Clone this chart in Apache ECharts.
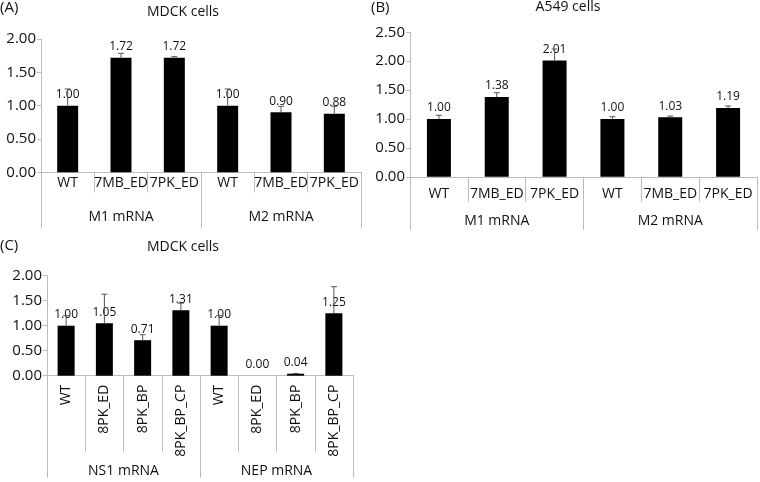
<!DOCTYPE html>
<html>
<head>
<meta charset="utf-8">
<script src="https://cdn.jsdelivr.net/npm/echarts@6/dist/echarts.min.js"></script>
<style>html,body{margin:0;padding:0;background:#fff}#c{width:760px;height:482px}</style>
</head>
<body>
<div id="c"></div>
<script>
// ---- data ----
var catsA = ['WT', '7MB_ED', '7PK_ED', 'WT', '7MB_ED', '7PK_ED'];
var groupsA = ['M1 mRNA', 'M2 mRNA'];
var valsA = [1.00, 1.72, 1.72, 1.00, 0.90, 0.88];
var errA = [0.25, 0.065, 0.015, 0.25, 0.09, 0.11];

var catsB = ['WT', '7MB_ED', '7PK_ED', 'WT', '7MB_ED', '7PK_ED'];
var groupsB = ['M1 mRNA', 'M2 mRNA'];
var valsB = [1.00, 1.38, 2.01, 1.00, 1.03, 1.19];
var errB = [0.065, 0.075, 0.2, 0.04, 0.02, 0.035];

var catsC = ['WT', '8PK_ED', '8PK_BP', '8PK_BP_CP', 'WT', '8PK_ED', '8PK_BP', '8PK_BP_CP'];
var groupsC = ['NS1 mRNA', 'NEP mRNA'];
var valsC = [1.00, 1.05, 0.71, 1.31, 1.00, 0.00, 0.04, 1.25];
var errC = [0.2, 0.58, 0.11, 0.14, 0.2, 0, 0.005, 0.53];

var titles = ['MDCK cells', 'A549 cells', 'MDCK cells'];
var panelTags = ['(A)', '(B)', '(C)'];
var yMax = [2.0, 2.5, 2.0];

// ---- styles ----
var FONT = 'Open Sans';
var axisGrey = '#bcbcbc';
var textCol = '#111';

var panels = [
  {cats: catsA, groups: groupsA, vals: valsA, errs: errA, grid: {left: 41, top: 39, width: 320, height: 133.3},
   barW: 21, innerTick: 20, groupTick: 56, catMargin: 4, groupMargin: 38, rotate: 0},
  {cats: catsB, groups: groupsB, vals: valsB, errs: errB, grid: {left: 410, top: 32.3, width: 347, height: 144.5},
   barW: 24, innerTick: 25, groupTick: 53, catMargin: 10, groupMargin: 37, rotate: 0},
  {cats: catsC, groups: groupsC, vals: valsC, errs: errC, grid: {left: 47, top: 275.7, width: 306, height: 100},
   barW: 17, innerTick: 76, groupTick: 102, catMargin: 9, groupMargin: 88, rotate: 90}
];

var grids = [], xAxes = [], yAxes = [], series = [];
panels.forEach(function (p, i) {
  grids.push(Object.assign({containLabel: false}, p.grid));
  xAxes.push({
    type: 'category', gridIndex: i, position: 'bottom', data: p.cats,
    axisLine: {show: true, lineStyle: {color: axisGrey, width: 1}},
    axisTick: {show: true, length: p.innerTick, alignWithLabel: false, lineStyle: {color: axisGrey}},
    axisLabel: {margin: p.catMargin, fontFamily: FONT, fontSize: 14, color: textCol, rotate: p.rotate, interval: 0}
  });
  xAxes.push({
    type: 'category', gridIndex: i, position: 'bottom', data: p.groups,
    axisLine: {show: false},
    axisTick: {show: true, length: p.groupTick, alignWithLabel: false, lineStyle: {color: axisGrey}},
    axisLabel: {margin: p.groupMargin, fontFamily: FONT, fontSize: 14, color: textCol, interval: 0}
  });
  yAxes.push({
    type: 'value', gridIndex: i, min: 0, max: yMax[i], interval: 0.5,
    axisLine: {show: true, lineStyle: {color: axisGrey}},
    axisTick: {show: true, inside: false, length: 4, lineStyle: {color: axisGrey}},
    splitLine: {show: false},
    axisLabel: {margin: 5, fontFamily: FONT, fontSize: 15, color: textCol,
      formatter: function (v) { return v.toFixed(2); }}
  });
  series.push({
    type: 'bar', xAxisIndex: i * 2, yAxisIndex: i, data: p.vals, barWidth: p.barW,
    itemStyle: {color: '#000'},
    label: {show: true, position: 'top', distance: 5, fontFamily: FONT, fontSize: 12, color: textCol,
      formatter: function (d) { return d.value.toFixed(2); }},
    z: 2
  });
  series.push({
    type: 'custom', xAxisIndex: i * 2, yAxisIndex: i, z: 3,
    data: p.vals.map(function (v, k) { return [k, v, p.errs[k]]; }),
    renderItem: function (params, api) {
      var x = api.value(0), v = api.value(1), e = api.value(2);
      if (!e) return null;
      var p0 = api.coord([x, v]);
      var p1 = api.coord([x, v + e]);
      var cw = 3;
      var st = {stroke: '#555', lineWidth: 1};
      return {type: 'group', children: [
        {type: 'line', shape: {x1: p0[0], y1: p0[1], x2: p1[0], y2: p1[1]}, style: st},
        {type: 'line', shape: {x1: p1[0] - cw, y1: p1[1], x2: p1[0] + cw, y2: p1[1]}, style: st}
      ]};
    }
  });
});

var titleStyle = {fontFamily: FONT, fontSize: 14, fontWeight: 'normal', color: textCol};
var tagStyle = {fontFamily: FONT, fontSize: 15, fontWeight: 'normal', color: textCol};
var option = {
  animation: false,
  backgroundColor: '#fff',
  title: [
    {text: titles[0], left: 183, top: 5, textAlign: 'center', textStyle: titleStyle},
    {text: titles[1], left: 568, top: 0, textAlign: 'center', textStyle: titleStyle},
    {text: titles[2], left: 183, top: 240, textAlign: 'center', textStyle: titleStyle},
    {text: panelTags[0], left: 0, top: 0, textStyle: tagStyle},
    {text: panelTags[1], left: 371, top: 0, textStyle: tagStyle},
    {text: panelTags[2], left: 0, top: 238, textStyle: tagStyle}
  ].map(function (t) { t.padding = 0; return t; }),
  grid: grids, xAxis: xAxes, yAxis: yAxes, series: series
};
echarts.init(document.getElementById('c'), null, {renderer: 'canvas'}).setOption(option);
</script>
</body>
</html>
